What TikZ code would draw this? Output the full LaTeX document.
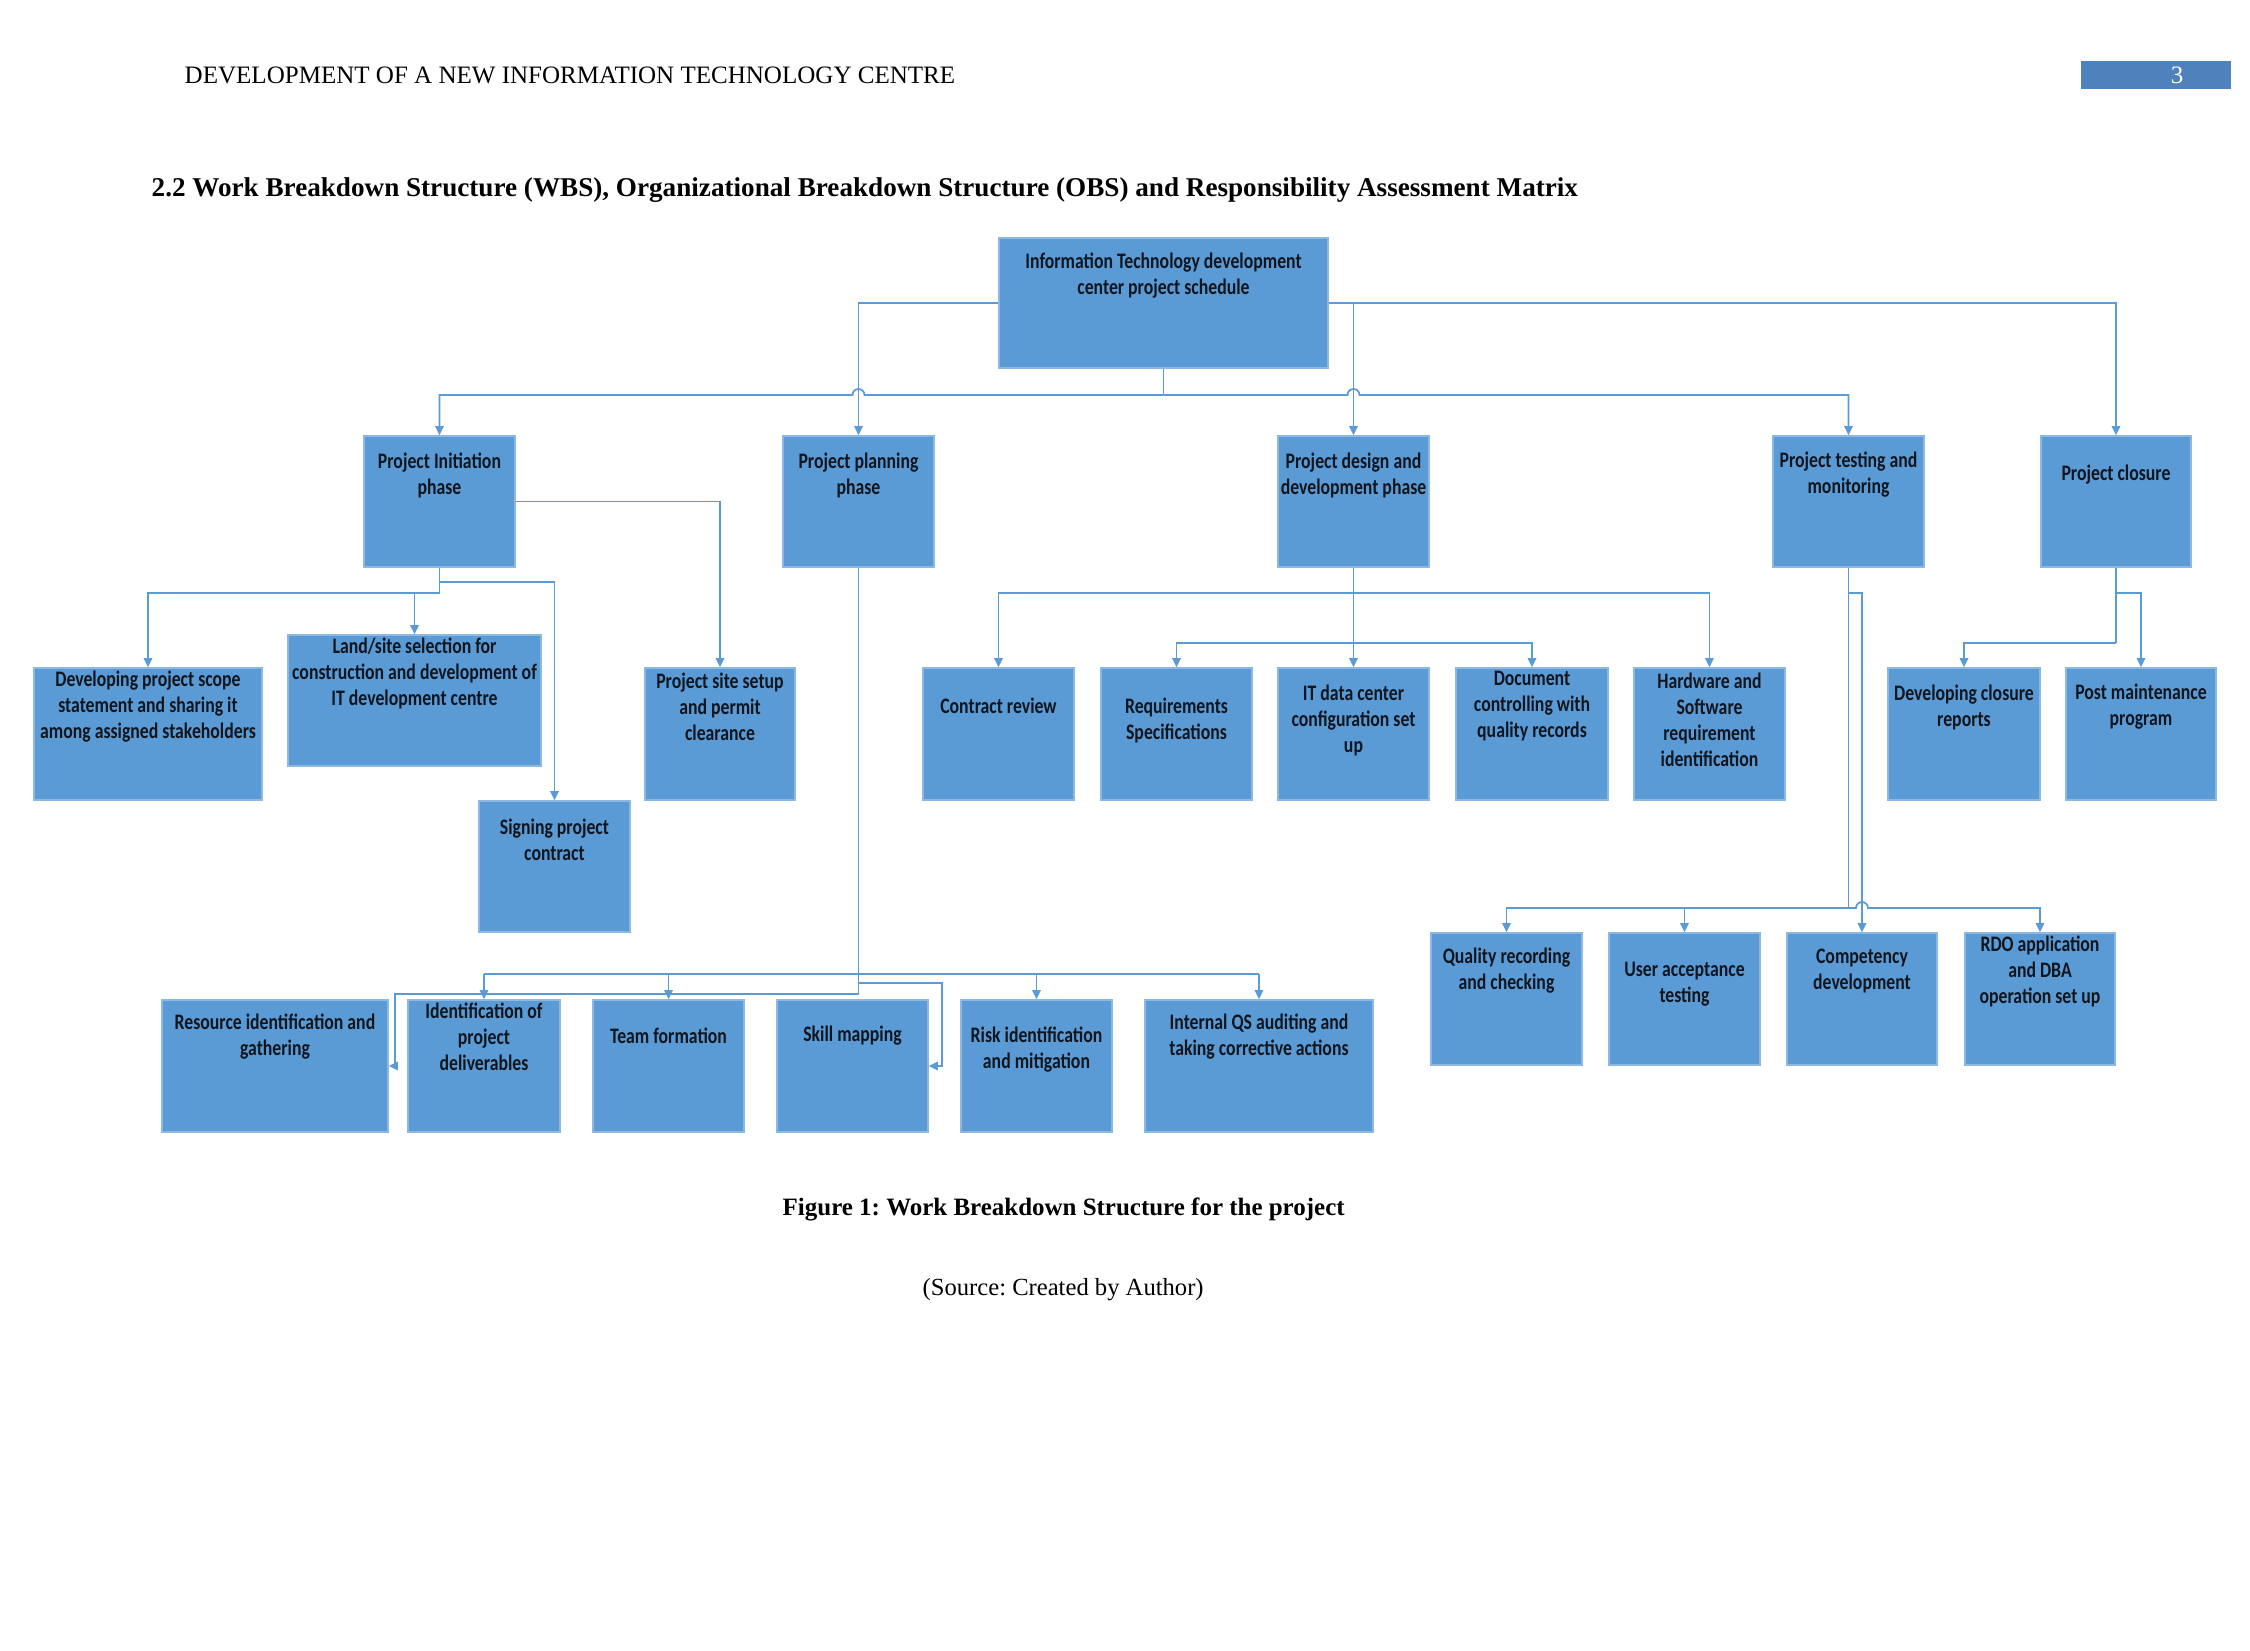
\documentclass[tikz,border=0pt]{standalone}
\usepackage{fontspec}
\setmainfont{Liberation Serif}
\newfontfamily\boxfont[FakeStretch=0.8]{Carlito}
\usetikzlibrary{arrows.meta,calc,fit}
\definecolor{boxblue}{HTML}{5B9BD5}
\definecolor{boxedge}{HTML}{8DB8E2}
\definecolor{linkblue}{HTML}{5B9BD5}
\definecolor{pagebox}{HTML}{4F81BD}
\definecolor{boxtext}{HTML}{10151E}
\frenchspacing
\begin{document}
\begin{tikzpicture}[x=0.01cm,y=-0.01cm,
  wbs/.style={draw=boxedge, fill=boxblue, line width=0.4pt, inner sep=0pt},
  lbl/.style={font=\boxfont\bfseries\fontsize{6.3}{7.4}\selectfont, align=center, inner sep=0pt, text=boxtext},
  link/.style={draw=linkblue, line width=0.5pt},
  arr/.style={link, -{Triangle[width=2.4pt,length=2.6pt]}},
  hdrfont/.style={font=\fontsize{7.12}{8}\selectfont},
]
\useasboundingbox (0,0) rectangle (2250,1650);

% header
\node[hdrfont, anchor=base west, inner sep=0pt] (hdr) at (184,83) {DEVELOPMENT OF A NEW INFORMATION TECHNOLOGY CENTRE};
\node[fill=pagebox, inner sep=0pt, fit={(2081,61) (2231,89)}] (pg) {};
\node[hdrfont, anchor=base, inner sep=0pt, text=white] (pgn) at (2177,83) {3};
\node[font=\bfseries\fontsize{7.72}{9}\selectfont, anchor=base west, inner sep=0pt] (title) at (151,196)
  {2.2 Work Breakdown Structure (WBS), Organizational Breakdown Structure (OBS) and Responsibility Assessment Matrix};

% boxes
\node[wbs, fit={(999,238) (1328,368)}] (root) {};
\node[wbs, fit={(364,436) (515,567)}] (init) {};
\node[wbs, fit={(783,436) (934,567)}] (plan) {};
\node[wbs, fit={(1278,436) (1429,567)}] (design) {};
\node[wbs, fit={(1773,436) (1924,567)}] (test) {};
\node[wbs, fit={(2041,436) (2191,567)}] (close) {};

\node[wbs, fit={(34,668) (262,800)}] (scope) {};
\node[wbs, fit={(288,635) (541,766)}] (land) {};
\node[wbs, fit={(645,668) (795,800)}] (site) {};
\node[wbs, fit={(479,801) (630,932)}] (sign) {};

\node[wbs, fit={(923,668) (1074,800)}] (contract) {};
\node[wbs, fit={(1101,668) (1252,800)}] (req) {};
\node[wbs, fit={(1278,668) (1429,800)}] (itdc) {};
\node[wbs, fit={(1456,668) (1608,800)}] (doc) {};
\node[wbs, fit={(1634,668) (1785,800)}] (hw) {};

\node[wbs, fit={(1888,668) (2040,800)}] (dcr) {};
\node[wbs, fit={(2066,668) (2216,800)}] (post) {};

\node[wbs, fit={(1431,933) (1582,1065)}] (qual) {};
\node[wbs, fit={(1609,933) (1760,1065)}] (user) {};
\node[wbs, fit={(1787,933) (1937,1065)}] (comp) {};
\node[wbs, fit={(1965,933) (2115,1065)}] (rdo) {};

\node[wbs, fit={(162,1000) (388,1132)}] (res) {};
\node[wbs, fit={(408,1000) (560,1132)}] (ident) {};
\node[wbs, fit={(593,1000) (744,1132)}] (team) {};
\node[wbs, fit={(777,1000) (928,1132)}] (skill) {};
\node[wbs, fit={(961,1000) (1112,1132)}] (risk) {};
\node[wbs, fit={(1145,1000) (1373,1132)}] (qs) {};

% labels
\node[lbl] (rootT) at (1163.5,276) {Information Technology development\\center project schedule};
\node[lbl] (initT) at (439.5,475) {Project Initiation\\phase};
\node[lbl] (planT) at (858.5,475) {Project planning\\phase};
\node[lbl] (designT) at (1353.5,475) {Project design and\\development phase};
\node[lbl] (testT) at (1848.5,475) {Project testing and\\monitoring};
\node[lbl] (closeT) at (2116,475) {Project closure};

\node[lbl] (scopeT) at (148,707) {Developing project scope\\statement and sharing it\\among assigned stakeholders};
\node[lbl] (landT) at (414.5,673) {Land/site selection for\\construction and development of\\IT development centre};
\node[lbl] (siteT) at (720,707) {Project site setup\\and permit\\clearance};
\node[lbl] (signT) at (554.5,840) {Signing project\\contract};

\node[lbl] (contractT) at (998.5,706) {Contract review};
\node[lbl] (reqT) at (1176.5,720) {Requirements\\Specifications};
\node[lbl] (itdcT) at (1353.5,720) {IT data center\\configuration set\\up};
\node[lbl] (docT) at (1532,706) {Document\\controlling with\\quality records};
\node[lbl] (hwT) at (1709.5,720) {Hardware and\\Software\\requirement\\identification};

\node[lbl] (dcrT) at (1964,707) {Developing closure\\reports};
\node[lbl] (postT) at (2141,707) {Post maintenance\\program};

\node[lbl] (qualT) at (1506.5,971) {Quality recording\\and checking};
\node[lbl] (userT) at (1684.5,984) {User acceptance\\testing};
\node[lbl] (compT) at (1862,971) {Competency\\development};
\node[lbl] (rdoT) at (2040,971) {RDO application\\and DBA\\operation set up};

\node[lbl] (resT) at (275,1037) {Resource identification and\\gathering};
\node[lbl] (identT) at (484,1037) {Identification of\\project\\deliverables};
\node[lbl] (teamT) at (668.5,1036) {Team formation};
\node[lbl] (skillT) at (852.5,1036) {Skill mapping};
\node[lbl] (riskT) at (1036.5,1050) {Risk identification\\and mitigation};
\node[lbl] (qsT) at (1259,1037) {Internal QS auditing and\\taking corrective actions};

% helper levels
\coordinate (yA) at (0,395);
\coordinate (yB) at (0,593);
\coordinate (yC) at (0,582);
\coordinate (yG) at (0,643);
\coordinate (yH) at (0,908);
\coordinate (yE) at (0,974);
\coordinate (yF) at (0,983);
\coordinate (yD) at (0,994);
\coordinate (xD) at (395,0);
\coordinate (xF) at (942,0);
\coordinate (hop1) at (plan.north |- yA);
\coordinate (hop2) at (design.north |- yA);
\coordinate (hop3) at (comp.north |- yH);

% root connectors
\draw[link] (root.south) -- (root.south |- yA);
\draw[arr] (root.south |- yA) -- ($(hop1)+(6,0)$) arc[start angle=0,end angle=180,radius=0.06cm] -| (init.north);
\draw[arr] (root.south |- yA) -- ($(hop2)+(-6,0)$) arc[start angle=180,end angle=0,radius=0.06cm] -| (test.north);
\draw[arr] (root.west) -| (plan.north);
\draw[arr] (root.east) -| (close.north);
\draw[arr] (root.east -| design.north) -- (design.north);

% initiation
\draw[link] (init.south) -- (init.south |- yB);
\draw[arr] (init.south |- yB) -| (scope.north);
\draw[arr] (land.north |- yB) -- (land.north);
\draw[arr] (init.south |- yC) -| (sign.north);
\draw[arr] (init.east) -| (site.north);

% planning
\draw[arr] (plan.south) -- (plan.south |- yD) -- (xD |- yD) |- (res.east);
\draw[link] (ident.north |- yE) -- (qs.north |- yE);
\draw[arr] (ident.north |- yE) -- (ident.north);
\draw[arr] (team.north |- yE) -- (team.north);
\draw[arr] (risk.north |- yE) -- (risk.north);
\draw[arr] (qs.north |- yE) -- (qs.north);
\draw[arr] (plan.south |- yF) -- (xF |- yF) |- (skill.east);

% design
\draw[arr] (design.south) -- (itdc.north);
\draw[arr] (design.south |- yB) -| (contract.north);
\draw[arr] (design.south |- yB) -| (hw.north);
\draw[arr] (design.south |- yG) -| (req.north);
\draw[arr] (design.south |- yG) -| (doc.north);

% testing
\draw[link] (test.south) -- (test.south |- yH);
\draw[arr] (test.south |- yH) -| (qual.north);
\draw[arr] (user.north |- yH) -- (user.north);
\draw[arr] (test.south |- yH) -- ($(hop3)+(-6,0)$) arc[start angle=180,end angle=0,radius=0.06cm] -| (rdo.north);
\draw[arr] (test.south |- yB) -| (comp.north);

% closure
\draw[link] (close.south) -- (close.south |- yG);
\draw[arr] (close.south |- yB) -| (post.north);
\draw[arr] (close.south |- yG) -| (dcr.north);

% captions
\node[font=\bfseries\fontsize{7.1}{9}\selectfont, anchor=base west, inner sep=0pt] (cap) at (782,1215) {Figure 1: Work Breakdown Structure for the project};
\node[font=\fontsize{7.0}{9}\selectfont, anchor=base west, inner sep=0pt] (src) at (922,1295) {(Source: Created by Author)};
\end{tikzpicture}
\end{document}
